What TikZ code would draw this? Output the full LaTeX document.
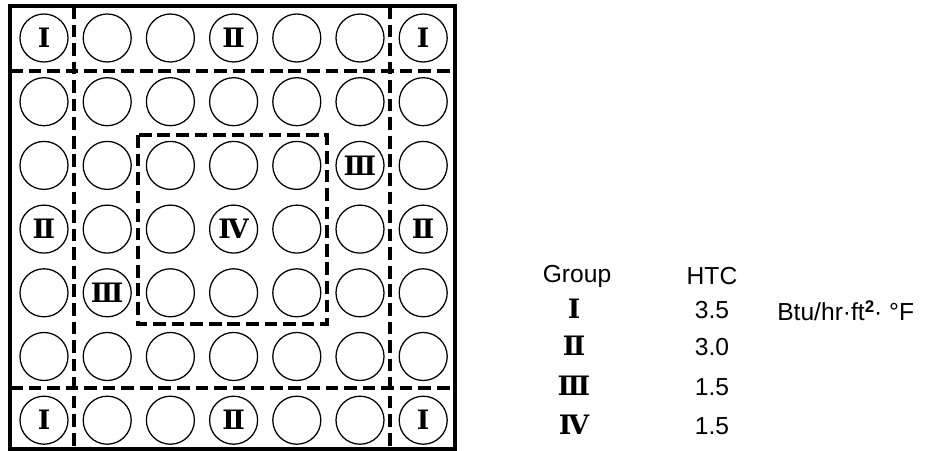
\documentclass[tikz,border=0pt]{standalone}
\usepackage{fontspec}
\setmainfont{Liberation Sans}
\newfontfamily\numfont{DejaVu Serif}

\begin{document}
\begin{tikzpicture}[
        x=0.025cm, y=-0.025cm,
        tube/.style={circle, draw, line width=0.9pt, minimum size=1.2cm, inner sep=0pt},
        grp/.style={font=\numfont\bfseries\fontsize{19}{20}\selectfont, inner sep=0pt},
        txt/.style={font=\fontsize{17.5}{20}\selectfont, inner sep=0pt, anchor=base},
        zone/.style={line width=2.6pt, dash pattern=on 9pt off 4.2pt}
    ]
    \useasboundingbox (0,0) rectangle (937,451);
%
    % Assembly box
    \draw[line width=2.2pt] (10,6) rectangle (455,449);
%
    % Rods
    \foreach \r in {1,...,7}
        \foreach \c in {1,...,7}
            \node[tube] (t\r\c) at ({44+63.2*(\c-1)}, {38+63.7*(\r-1)}) {};
%
    % Group borders
    \draw[zone] (74,6) -- (74,449);
    \draw[zone] (390,6) -- (390,449);
    \draw[zone] (10,71) -- (455,71);
    \draw[zone] (10,388) -- (455,388);
    \draw[zone] (138,135) rectangle (327,324);
%
    % Group labels in rods
    \foreach \r/\c/\g in {1/1/Ⅰ, 1/4/Ⅱ, 1/7/Ⅰ, 3/6/Ⅲ, 4/1/Ⅱ, 4/4/Ⅳ, 4/7/Ⅱ, 5/2/Ⅲ, 7/1/Ⅰ, 7/4/Ⅱ, 7/7/Ⅰ}
        \node[grp] (g\r\c) at (t\r\c) {\g};
%
    % Table
    \node[txt] (hgroup) at (577,283) {Group};
    \node[txt] (hhtc) at (712,284) {HTC};
    \foreach \g/\v/\y [count=\i] in {Ⅰ/3.5/318, Ⅱ/3.0/355, Ⅲ/1.5/395, Ⅳ/1.5/434} {
        \node[grp, anchor=base] (n\i) at (574,\y) {\g};
        \node[txt] (v\i) at (712,\y) {\v};
    }
    \node[txt, anchor=base west] (unit) at (777,320)
        {Btu/hr·ft\raisebox{0.55ex}{\fontsize{12}{12}\selectfont\bfseries 2}· °F};
%
\end{tikzpicture}
\end{document}
